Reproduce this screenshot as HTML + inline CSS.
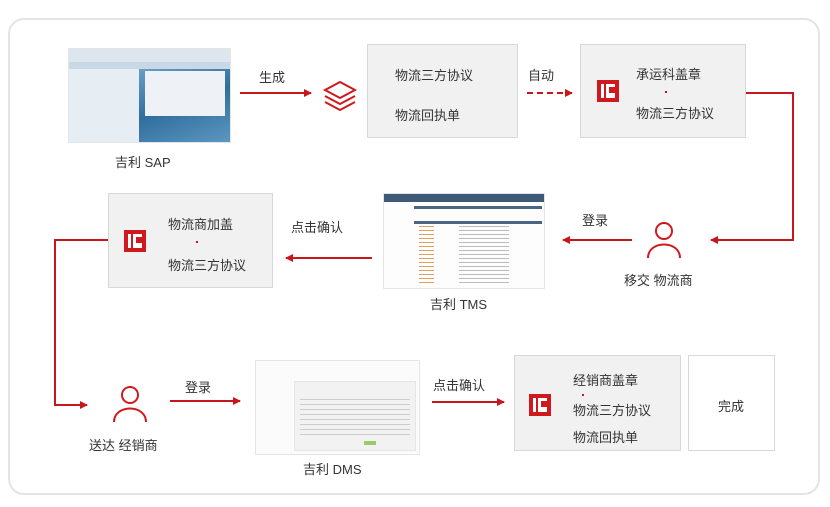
<!DOCTYPE html>
<html><head><meta charset="utf-8"><style>
body{margin:0;width:830px;height:507px;background:#fff;position:relative;overflow:hidden;font-family:"Liberation Sans","Noto Sans CJK SC",sans-serif;font-size:13px;color:#333}
.a{position:absolute}
.box{position:absolute;background:#f1f1f1;border:1px solid #d8d8d8;box-sizing:border-box}
.t{position:absolute;white-space:nowrap}
.ic{position:absolute;width:22px;height:22px;background:#d0191f}
.ic:before{content:"";position:absolute;left:4px;top:4px;width:3px;height:14px;background:#fff}
.ic:after{content:"";position:absolute;left:9px;top:4px;width:9px;height:14px;border:3px solid #fff;border-right:none;box-sizing:border-box;background:linear-gradient(#fff,#fff) 0 5.5px/100% 3px no-repeat}
.shot{position:absolute;border:1px solid #e5e5e5;background:#fafafa}
</style></head><body>
<div class="a" style="left:8px;top:18px;width:812px;height:477px;border:2px solid #e4e4e4;border-radius:16px;box-sizing:border-box"></div>

<!-- SAP -->
<div class="shot" style="left:68px;top:48px;width:161px;height:93px;background:linear-gradient(180deg,#dde6ee 0,#dde6ee 14%,#c9d8e6 14%,#c9d8e6 100%)">
<div class="a" style="left:56px;top:20px;width:105px;height:73px;background:linear-gradient(160deg,#6fa3c8,#2f6e9e 50%,#5c97c0)"></div>
<div class="a" style="left:76px;top:22px;width:80px;height:45px;background:#eef2f6"></div>
<div class="a" style="left:0;top:20px;width:70px;height:73px;background:#e6edf3"></div>
</div>
<div class="t" style="left:115px;top:152px">吉利 SAP</div>

<svg class="a" style="left:0;top:0" width="830" height="507">
<defs><marker id="m" markerWidth="8" markerHeight="8" refX="7" refY="4" orient="auto" markerUnits="userSpaceOnUse"><path d="M0,0 L8,4 L0,8 z" fill="#c8161d"/></marker></defs>
<g stroke="#c8161d" stroke-width="2" fill="none">
<path d="M240,93 H311" marker-end="url(#m)"/>
<path d="M527,93 H572" stroke-dasharray="6,4" marker-end="url(#m)"/>
<path d="M746,93 H793 V240 H711" marker-end="url(#m)"/>
<path d="M632,240 H563" marker-end="url(#m)"/>
<path d="M372,258 H286" marker-end="url(#m)"/>
<path d="M108,240 H55 V405 H87" marker-end="url(#m)"/>
<path d="M170,401 H240" marker-end="url(#m)"/>
<path d="M432,402 H504" marker-end="url(#m)"/>
</g>
<g stroke="#d0191f" stroke-width="2" fill="none">
<path d="M325,90 L340,82 L355,90 L340,98 Z"/>
<path d="M325,96 L340,104 L355,96"/>
<path d="M325,102 L340,110 L355,102"/>
<circle cx="664" cy="231" r="8"/>
<path d="M648,258 C648,240 680,240 680,258"/>
<circle cx="130" cy="395" r="8"/>
<path d="M114,422 C114,404 146,404 146,422"/>
</g>
</svg>
<div class="t" style="left:259px;top:67px">生成</div>

<div class="box" style="left:367px;top:44px;width:151px;height:94px"></div>
<div class="t" style="left:395px;top:65px">物流三方协议</div>
<div class="t" style="left:395px;top:105px">物流回执单</div>
<div class="t" style="left:528px;top:65px">自动</div>

<div class="box" style="left:580px;top:44px;width:166px;height:94px"></div>
<div class="ic" style="left:597px;top:80px"></div>
<div class="t" style="left:636px;top:64px">承运科盖章</div>
<div class="a" style="left:665px;top:91px;width:2px;height:2px;background:#c8161d"></div>
<div class="t" style="left:636px;top:103px">物流三方协议</div>

<div class="t" style="left:624px;top:270px">移交 物流商</div>
<div class="t" style="left:582px;top:210px">登录</div>

<div class="shot" style="left:383px;top:193px;width:160px;height:94px;background:#fdfdfd">
<div class="a" style="left:0;top:0;width:160px;height:8px;background:#3f5a78"></div>
<div class="a" style="left:30px;top:12px;width:128px;height:3px;background:#4a6584"></div>
<div class="a" style="left:30px;top:27px;width:128px;height:3px;background:#4a6584"></div>
<div class="a" style="left:35px;top:32px;width:15px;height:60px;background:repeating-linear-gradient(#e0a060 0 1px,transparent 1px 4px)"></div>
<div class="a" style="left:75px;top:32px;width:50px;height:60px;background:repeating-linear-gradient(#bbb 0 1px,transparent 1px 4px)"></div>
</div>
<div class="t" style="left:430px;top:294px">吉利 TMS</div>
<div class="t" style="left:291px;top:217px">点击确认</div>

<div class="box" style="left:108px;top:193px;width:165px;height:95px"></div>
<div class="ic" style="left:124px;top:230px"></div>
<div class="t" style="left:168px;top:214px">物流商加盖</div>
<div class="a" style="left:196px;top:241px;width:2px;height:2px;background:#c8161d"></div>
<div class="t" style="left:168px;top:255px">物流三方协议</div>

<div class="t" style="left:89px;top:435px">送达 经销商</div>
<div class="t" style="left:185px;top:377px">登录</div>

<div class="shot" style="left:255px;top:360px;width:163px;height:93px;background:#fbfbfb">
<div class="a" style="left:38px;top:20px;width:120px;height:68px;background:#f2f2f2;border:1px solid #e6e6e6"></div>
<div class="a" style="left:44px;top:38px;width:110px;height:40px;background:repeating-linear-gradient(#ccc 0 1px,transparent 1px 5px)"></div>
<div class="a" style="left:108px;top:80px;width:12px;height:4px;background:#9c6"></div>
</div>
<div class="t" style="left:303px;top:459px">吉利 DMS</div>
<div class="t" style="left:433px;top:375px">点击确认</div>

<div class="box" style="left:514px;top:355px;width:167px;height:96px"></div>
<div class="ic" style="left:529px;top:394px"></div>
<div class="t" style="left:573px;top:370px">经销商盖章</div>
<div class="a" style="left:582px;top:394px;width:2px;height:2px;background:#c8161d"></div>
<div class="t" style="left:573px;top:400px">物流三方协议</div>
<div class="t" style="left:573px;top:427px">物流回执单</div>

<div class="box" style="left:688px;top:355px;width:87px;height:96px;background:#fff"></div>
<div class="t" style="left:718px;top:396px">完成</div>
</body></html>
